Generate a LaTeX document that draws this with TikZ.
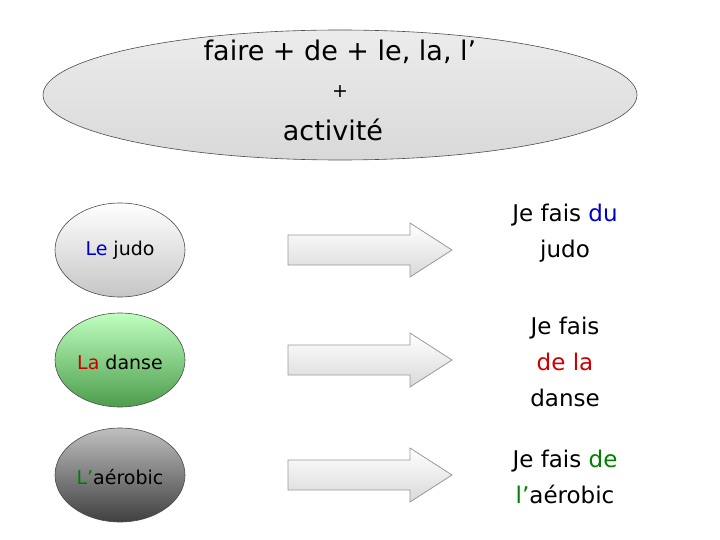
\documentclass[tikz,border=0pt]{standalone}
\usepackage{fontspec}
\setmainfont{DejaVu Sans}
\begin{document}
\begin{tikzpicture}[x=1pt,y=-1pt,
  oval/.style={draw=black!70,line width=0.6pt},
  blk/.style={draw=gray!80,line width=0.8pt,top color=white,bottom color=gray!30},
  big/.style={font=\fontsize{27}{32}\selectfont},
  mid/.style={font=\fontsize{23}{36}\selectfont,align=center},
  sm/.style={font=\fontsize{19}{22}\selectfont}]
\definecolor{bl}{RGB}{0,0,204}
\definecolor{rd}{RGB}{204,0,0}
\definecolor{gr}{RGB}{0,128,0}
\useasboundingbox (0,0) rectangle (720,540);
\draw[oval,top color=gray!15,bottom color=gray!30] (340,95) ellipse [x radius=297,y radius=65];
\node[big] (t1) at (340,52) {faire + de + le, la, l’};
\node[sm] (t2) at (340,92) {+};
\node[big] (t3) at (333,130) {activité};
\foreach \y/\a/\b in {250/white/gray!45, 360/green!25!white/green!45!black!70, 475/gray!50/black!75}{
  \draw[oval,top color=\a,bottom color=\b] (120,\y) ellipse [x radius=65,y radius=47];
  \draw[blk] (288,\y-15) -- (410,\y-15) -- (410,\y-27) -- (452,\y) -- (410,\y+27) -- (410,\y+15) -- (288,\y+15) -- cycle;
}
\node[sm] (l1) at (120,250) {\textcolor{bl}{Le} judo};
\node[sm] (l2) at (120,362) {\textcolor{rd}{La} danse};
\node[sm] (l3) at (120,477) {\textcolor{gr}{L’}aérobic};
\node[mid] (r1) at (565,233) {Je fais \textcolor{bl}{du}\\judo};
\node[mid] (r2) at (565,362) {Je fais\\\textcolor{rd}{de la}\\danse};
\node[mid] (r3) at (565,477) {Je fais \textcolor{gr}{de}\\\textcolor{gr}{l’}aérobic};
\end{tikzpicture}
\end{document}
